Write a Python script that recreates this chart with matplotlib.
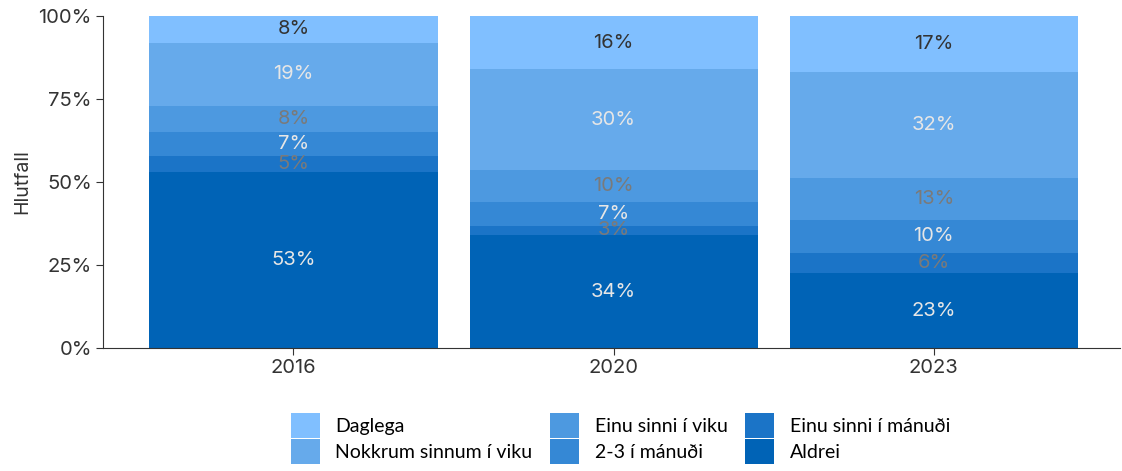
import matplotlib.pyplot as plt
import numpy as np

years = ['2016', '2020', '2023']
categories = ['Aldrei', 'Einu sinni í mánuði', '2-3 í mánuði', 'Einu sinni í viku',
              'Nokkrum sinnum í viku', 'Daglega']
aldrei = [52.9, 34.0, 22.6]
einu_man = [5.0, 2.9, 6.0]
tvo_thrju = [7.1, 7.2, 10.0]
einu_viku = [7.9, 9.6, 12.6]
nokkrum = [19.0, 30.2, 32.0]
daglega = [8.1, 16.1, 16.8]

series = [aldrei, einu_man, tvo_thrju, einu_viku, nokkrum, daglega]
colors = ['#0063b6', '#1b74c7', '#3588d5', '#4d99e0', '#66aaeb', '#80bfff']
label_colors = ['#e6e6e6', '#7a7a7a', '#e6e6e6', '#7a7a7a', '#e6e6e6', '#333333']

plt.rcParams['font.family'] = ['Inter', 'DejaVu Sans']

fig = plt.figure(figsize=(11.22, 4.71), dpi=100)
ax = fig.add_axes([0.0918, 0.261, 0.906, 0.705])

x = np.arange(len(years))
bottom = np.zeros(len(years))
handles = {}
for name, vals, col, lc in zip(categories, series, colors, label_colors):
    vals = np.array(vals) / 100
    b = ax.bar(x, vals, 0.9, bottom=bottom, color=col, label=name)
    handles[name] = b
    for xi, v, bt in zip(x, vals, bottom):
        ax.text(xi, bt + v / 2, f'{v*100:.0f}%', ha='center', va='center',
                fontsize=14.5, color=lc)
    bottom += vals

ax.set_xlim(-0.595, 2.58)
ax.set_ylim(0, 1)
ax.set_yticks([0, 0.25, 0.5, 0.75, 1])
ax.set_yticklabels(['0%', '25%', '50%', '75%', '100%'])
ax.set_xticks(x)
ax.set_xticklabels(years)
ax.tick_params(labelsize=14.5, colors='#333333', length=5, pad=3)
ax.spines['top'].set_visible(False)
ax.spines['right'].set_visible(False)
ax.spines['left'].set_color('#333333')
ax.spines['bottom'].set_color('#333333')
ax.set_ylabel('Hlutfall', fontsize=14, color='#333333', labelpad=5)

order = ['Daglega', 'Nokkrum sinnum í viku', 'Einu sinni í viku', '2-3 í mánuði',
         'Einu sinni í mánuði', 'Aldrei']
fig.legend([handles[n] for n in order], order, loc='upper center',
           bbox_to_anchor=(0.553, 1 - 403 / 471), ncol=3, frameon=False,
           prop={'family': ['Lato', 'DejaVu Sans'], 'size': 14},
           handlelength=1.5, handleheight=1.6, handletextpad=0.8,
           columnspacing=0.9, labelspacing=0.05, borderpad=0)

fig.savefig('out.png', dpi=100)
